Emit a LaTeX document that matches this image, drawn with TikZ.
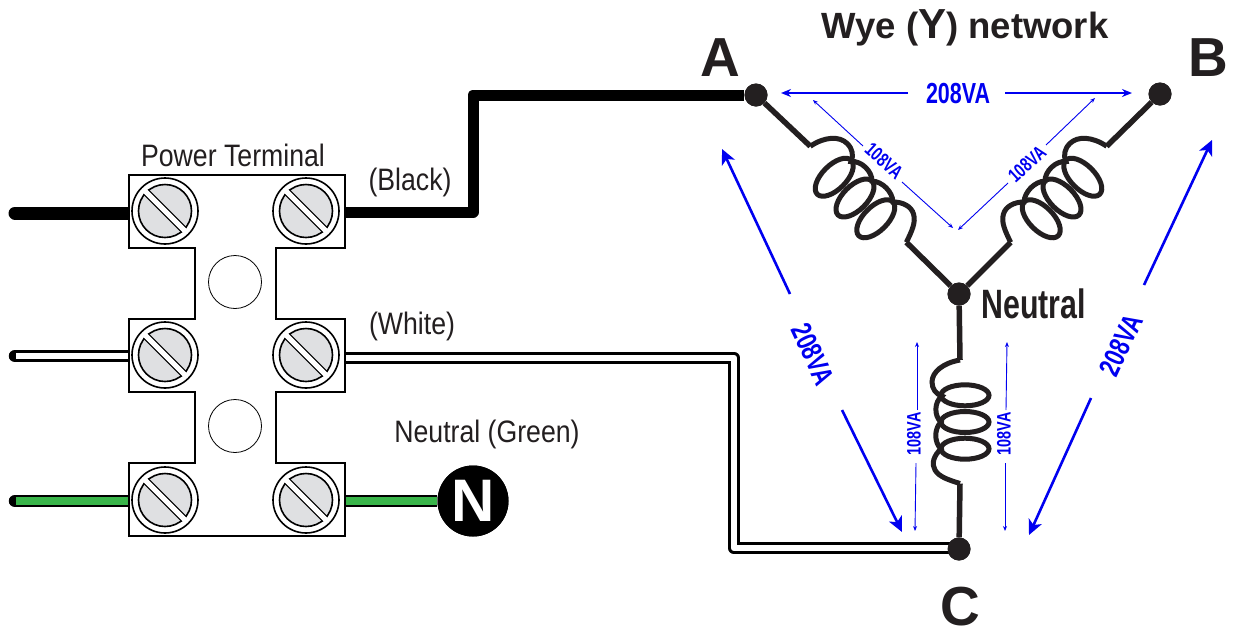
\documentclass[tikz,border=0pt]{standalone}
\usepackage{fontspec}
\setmainfont{Liberation Sans}
\newfontfamily\cond[FakeStretch=0.86]{Liberation Sans}
\newfontfamily\condb[FakeStretch=0.74]{Liberation Sans Bold}
\usetikzlibrary{arrows.meta}
\definecolor{ink}{HTML}{231F20}
\definecolor{bluev}{HTML}{0000F0}
\definecolor{wiregreen}{HTML}{39B54A}
\definecolor{screwgrey}{HTML}{DFE0E2}
\newcommand{\fs}[1]{\fontsize{#1}{#1}\selectfont}
\newcommand{\screw}[3]{%
  \node[screwouter] (#1) at (#2,#3) {};
  \node[screwinner] (#1i) at (#2,#3) {};
  \draw[slotedge] (#1i.north west) -- (#1i.south east);
  \draw[slotfill] (#1i.north west) -- (#1i.south east);
}
% name, cx, cy, rotation, mirror, axial stretch, ellipse minor radius
\newcommand{\coil}[7]{%
  \begin{scope}[shift={(#2,#3)},rotate=#4,xscale=#5,yscale=#6]
    \foreach \u in {-26.7,0,26.7} {
      \draw[coilline] (0,\u) ellipse [x radius=24pt,y radius=#7];
    }
    \coordinate (#1a) at (-5,-62);
    \coordinate (#1b) at (-5,61.5);
    \draw[coilline] (#1a) .. controls (-22,-59) and (-33,-50) .. (-33,-40)
      .. controls (-33,-33) and (-29,-28) .. (-23,-26)
      .. controls (-31,-20) and (-31,-6) .. (-24,0)
      .. controls (-31,7) and (-31,20) .. (-24,27)
      .. controls (-31,33) and (-34,42) .. (-30,48)
      .. controls (-26,55) and (-16,58) .. (#1b);
  \end{scope}
}
\tikzset{
  x=1pt,y=-1pt,
  blackwire/.style={line width=11pt,black,line join=round},
  leadwire/.style={line width=13pt,black,line cap=round},
  whiteouter/.style={line width=12.5pt,black,line join=round},
  whiteinner/.style={line width=6.5pt,white,line join=round},
  greeninner/.style={line width=7.5pt,wiregreen},
  roundcap/.style={line cap=round},
  terminal/.style={draw=black,fill=white,line width=1.7pt,line join=miter},
  hole/.style={circle,draw=black,fill=white,line width=.8pt,minimum size=53pt,inner sep=0pt},
  screwouter/.style={circle,draw=black,fill=white,line width=1.6pt,minimum size=66pt,inner sep=0pt},
  screwinner/.style={circle,draw=black,fill=screwgrey,line width=1.6pt,minimum size=53pt,inner sep=0pt},
  slotedge/.style={black,line width=7.5pt},
  slotfill/.style={white,line width=5pt,shorten >=-1pt,shorten <=-1pt},
  dot/.style={circle,fill=ink,minimum size=23pt,inner sep=0pt},
  nbadge/.style={circle,fill=black,minimum size=71pt,inner sep=0pt,font=\bfseries\fs{60},text=white},
  coilline/.style={draw=ink,line width=5pt},
  stem/.style={draw=ink,line width=5.5pt,line join=miter},
  wirelabel/.style={font=\cond\fs{31},text=ink,inner sep=0pt},
  biglabel/.style={font=\bfseries\fs{55},text=ink,inner sep=0pt},
  valabel/.style={font=\condb\fs{29},text=bluev,inner sep=0pt},
  smalllabel/.style={font=\condb\fs{19.5},text=bluev,inner sep=0pt},
  topva/.style={bluev,line width=2.4pt,-{Stealth[length=10pt,width=8pt]}},
  bigva/.style={bluev,line width=2.6pt,-{Stealth[length=15pt,width=14pt,inset=4pt]}},
  thinva/.style={bluev,line width=.9pt,-{Stealth[length=5pt,width=4pt]}},
}
\begin{document}
\begin{tikzpicture}
\useasboundingbox (0,0) rectangle (1234,630);
\fill[white] (0,0) rectangle (1234,630);

% star points
\node[dot] (A) at (756,95) {};
\node[dot] (B) at (1160,94) {};
\node[dot] (N) at (959,294) {};
\node[dot] (C) at (959,549) {};

% wire ends and bends
\coordinate (bl) at (15,213);
\coordinate (bt) at (129,213);
\coordinate (wl) at (15,356);
\coordinate (wli) at (16,356);
\coordinate (wt) at (129,356);
\coordinate (gl) at (15,501);
\coordinate (gli) at (16,501);
\coordinate (gt) at (129,501);
\coordinate (bk0) at (344,212);
\coordinate (bk1) at (473,212);
\coordinate (bk2) at (473,95);
\coordinate (w1) at (344,358);
\coordinate (w2) at (734,358);
\coordinate (w3) at (734,548);
\coordinate (w4) at (959,548);
\coordinate (g1) at (344,501);
\node[nbadge] (Nb) at (473,501) {N};

\draw[leadwire] (bl) -- (bt);
\draw[blackwire] (bk0) -- (bk1) -- (bk2) -- (A);
\draw[whiteouter,roundcap] (wl) -- (wt);
\draw[whiteinner] (wli) -- (wt);
\draw[whiteouter] (w1) -- (w2) -- (w3) -- (w4);
\draw[whiteinner] (w1) -- (w2) -- (w3) -- (w4);
\draw[whiteouter,roundcap] (gl) -- (gt);
\draw[greeninner] (gli) -- (gt);
\draw[whiteouter] (g1) -- (Nb);
\draw[greeninner] (g1) -- (Nb);
\node[nbadge] at (Nb) {N};

% terminal block
\draw[terminal] (129,175) -- (345,175) -- (345,248) -- (276,248) -- (276,319) -- (345,319)
  -- (345,392) -- (276,392) -- (276,463) -- (345,463) -- (345,536) -- (129,536)
  -- (129,463) -- (195,463) -- (195,392) -- (129,392) -- (129,319) -- (195,319)
  -- (195,248) -- (129,248) -- cycle;
\node[hole] (h1) at (235,282) {};
\node[hole] (h2) at (235,426) {};
\screw{t1}{165}{211}
\screw{t2}{306}{211}
\screw{t3}{165}{355}
\screw{t4}{306}{355}
\screw{t5}{165}{500}
\screw{t6}{306}{500}

% coils
\coil{ca}{855}{198}{45}{-1}{1.1}{11pt}
\coil{cb}{1062}{198}{-45}{1}{1.1}{11pt}
\coil{cc}{965}{422}{0}{1}{1}{10.5pt}
\draw[stem] (A) -- (caa);
\draw[stem] (cab) -- (N);
\draw[stem] (B) -- (cba);
\draw[stem] (cbb) -- (N);
\draw[stem] (N) -- (cca);
\draw[stem] (ccb) -- (C);
\node[dot] at (A) {};
\node[dot] at (B) {};
\node[dot] at (N) {};
\node[dot] at (C) {};

% labels
\node[font=\bfseries\fs{36.5},text=ink,inner sep=0pt] (title) at (965,27.5) {Wye ({\fs{42}Y}) network};
\node[biglabel] (la) at (720,58) {A};
\node[biglabel] (lb) at (1208,58) {B};
\node[biglabel] (lc) at (960,607) {C};
\node[font=\condb\fs{41},text=ink,inner sep=0pt] (ln) at (1033.5,303.5) {Neutral};
\node[wirelabel] (pt) at (233,155) {Power Terminal};
\node[wirelabel] (lbk) at (410,182.5) {(Black)};
\node[wirelabel] (lw) at (412,326.5) {(White)};
\node[wirelabel] (lg) at (487,434) {Neutral (Green)};

\node[valabel] (v1) at (958,94) {208VA};
\node[valabel,rotate=-65] (v2) at (813,354) {208VA};
\node[valabel,rotate=65] (v3) at (1121,345) {208VA};
\node[smalllabel,rotate=-42] (s108a) at (884,161) {108VA};
\node[smalllabel,rotate=42] (s108b) at (1027,164) {108VA};
\node[smalllabel,rotate=90] (s108c) at (914,434) {108VA};
\node[smalllabel,rotate=90] (s108d) at (1004,434) {108VA};

% voltage arrows
\coordinate (a1s) at (908,93); \coordinate (a1e) at (781,93);
\coordinate (a2s) at (1005,93); \coordinate (a2e) at (1132,93);
\coordinate (a3s) at (790,294); \coordinate (a3e) at (722,149);
\coordinate (a4s) at (842,410); \coordinate (a4e) at (902,532);
\coordinate (a5s) at (1144,285); \coordinate (a5e) at (1212,140);
\coordinate (a6s) at (1091,398); \coordinate (a6e) at (1029,535);
\coordinate (b1s) at (863,146); \coordinate (b1e) at (813,100);
\coordinate (b2s) at (902,182); \coordinate (b2e) at (953,228);
\coordinate (b3s) at (1008,183); \coordinate (b3e) at (958,230);
\coordinate (b4s) at (1046,145); \coordinate (b4e) at (1095,98);
\coordinate (b5s) at (917,410); \coordinate (b5e) at (917,342);
\coordinate (b6s) at (916,463); \coordinate (b6e) at (915,531);
\coordinate (b7s) at (1006,410); \coordinate (b7e) at (1007,342);
\coordinate (b8s) at (1005,463); \coordinate (b8e) at (1005,531);
\draw[topva] (a1s) -- (a1e);
\draw[topva] (a2s) -- (a2e);
\draw[bigva] (a3s) -- (a3e);
\draw[bigva] (a4s) -- (a4e);
\draw[bigva] (a5s) -- (a5e);
\draw[bigva] (a6s) -- (a6e);
\foreach \i in {1,...,8} { \draw[thinva] (b\i s) -- (b\i e); }
\end{tikzpicture}
\end{document}
